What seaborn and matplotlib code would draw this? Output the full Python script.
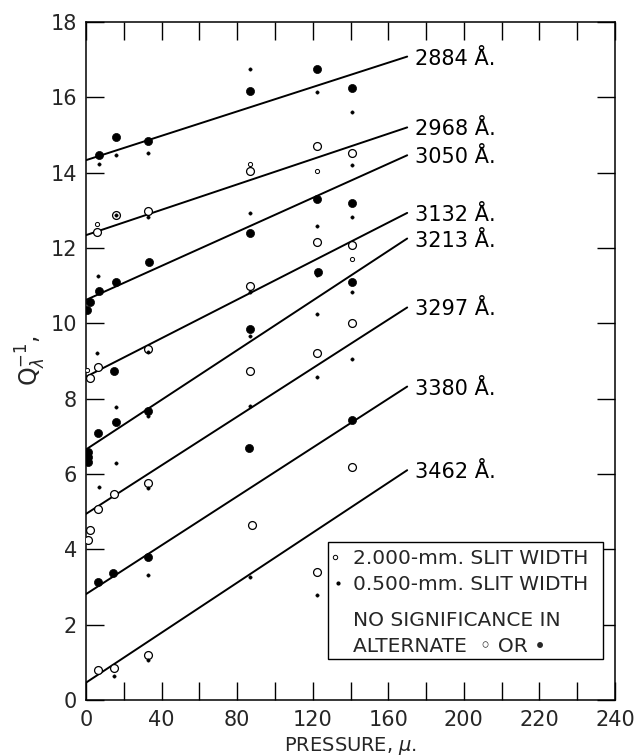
import numpy as np
import pandas as pd
import matplotlib
matplotlib.use("Agg")
import matplotlib.pyplot as plt
from matplotlib.patches import Rectangle
import seaborn as sns

# ---------------- data ----------------
wavelengths = ["2884", "2968", "3050", "3132", "3213", "3297", "3380", "3462"]

# fitted lines: Q at pressure 0 and at pressure 170
line_p_start = 0
line_p_end = 170
line_q_start = [14.33, 12.34, 10.62, 8.58, 6.65, 4.94, 2.81, 0.46]
line_q_end = [17.08, 15.20, 14.46, 12.93, 12.25, 10.42, 8.32, 6.10]

# 2.000-mm slit width (large markers)
wide_wavelength = (["2884"] * 6 + ["2968"] * 6 + ["3050"] * 8 + ["3132"] * 7 +
                   ["3213"] * 9 + ["3297"] * 8 + ["3380"] * 5 + ["3462"] * 6)
wide_pressure = [7, 16, 33, 87, 122, 141,
                 6, 16, 33, 87, 122, 141,
                 0.7, 2, 7, 16, 33.5, 87, 122, 141,
                 2, 6.5, 15, 33, 87, 122, 141,
                 1, 1, 1, 6.5, 15.7, 33, 87, 123, 141,
                 1.2, 2, 6.5, 15, 33, 87, 122, 141,
                 6.5, 14.5, 33, 86.5, 141,
                 6.5, 15, 33, 87.7, 122.5, 141]
wide_q = [14.47, 14.95, 14.85, 16.17, 16.75, 16.25,
          12.42, 12.87, 12.98, 14.03, 14.71, 14.51,
          10.35, 10.57, 10.87, 11.09, 11.62, 12.39, 13.30, 13.19,
          8.54, 8.83, 8.72, 9.32, 11.00, 12.17, 12.08,
          6.58, 6.45, 6.33, 7.08, 7.39, 7.68, 9.85, 11.35, 11.10,
          4.25, 4.51, 5.06, 5.47, 5.77, 8.72, 9.20, 10.02,
          3.14, 3.38, 3.80, 6.68, 7.43,
          0.80, 0.86, 1.19, 4.65, 3.39, 6.19]
wide_filled = ([True] * 6 + [False] * 6 + [True] * 8 +
               [False, False, True, False, False, False, False] +
               [True] * 9 + [False] * 8 + [True] * 5 + [False] * 6)

# 0.500-mm slit width (small markers)
narrow_wavelength = (["2884"] * 6 + ["2968"] * 6 + ["3050"] * 4 + ["3132"] * 5 +
                     ["3213"] * 7 + ["3297"] * 5 + ["3380"] * 1 + ["3462"] * 4)
narrow_pressure = [7, 16, 33, 87, 122, 141,
                   6, 16, 33, 87, 122, 141,
                   6.5, 87, 122, 141,
                   0.7, 5.6, 33, 87, 141,
                   15.7, 15.7, 33, 87, 122, 122, 141,
                   7, 33, 87, 122, 141,
                   33,
                   15, 33, 87, 122]
narrow_q = [14.23, 14.48, 14.53, 16.74, 16.13, 15.60,
            12.64, 12.87, 12.83, 14.22, 14.05, 14.19,
            11.26, 12.94, 12.57, 12.83,
            8.76, 9.20, 9.25, 10.84, 11.70,
            7.77, 6.28, 7.55, 9.67, 11.28, 10.24, 10.84,
            5.66, 5.63, 7.81, 8.58, 9.05,
            3.33,
            0.64, 1.06, 3.27, 2.80]
narrow_open = ([False] * 6 +
               [True, False, False, True, True, False] +
               [False] * 4 +
               [True, False, False, False, True] +
               [False] * 7 + [False] * 5 + [False] + [False] * 4)

x_major = [0, 40, 80, 120, 160, 200, 240, 280]
x_tick_labels = ["0", "40", "80", "120", "160", "200", "220", "240"]
y_major = [0, 2, 4, 6, 8, 10, 12, 14, 16, 18]

# ---------------- frames ----------------
line_df = pd.DataFrame({
    "wavelength": wavelengths * 2,
    "pressure": [line_p_start] * len(wavelengths) + [line_p_end] * len(wavelengths),
    "q": line_q_start + line_q_end,
})
wide_df = pd.DataFrame({"wavelength": wide_wavelength, "pressure": wide_pressure,
                        "q": wide_q, "filled": wide_filled})
narrow_df = pd.DataFrame({"wavelength": narrow_wavelength, "pressure": narrow_pressure,
                          "q": narrow_q, "open": narrow_open})

# ---------------- style ----------------
sns.set_theme(style="ticks")
plt.rcParams["font.family"] = ["DejaVu Sans"]
plt.rcParams["mathtext.fontset"] = "dejavusans"

fig = plt.figure(figsize=(6.37, 7.56), dpi=100)
ax = fig.add_axes([0.135, 0.0741, 0.8305, 0.8969])

sns.lineplot(data=line_df, x="pressure", y="q", units="wavelength", estimator=None,
             color="black", linewidth=1.4, sort=True, legend=False, ax=ax)

sns.scatterplot(data=wide_df[~wide_df["filled"]], x="pressure", y="q", ax=ax,
                s=32, facecolor="white", edgecolor="black", linewidth=0.9,
                legend=False, zorder=3)
sns.scatterplot(data=wide_df[wide_df["filled"]], x="pressure", y="q", ax=ax,
                s=34, color="black", edgecolor="black", linewidth=0.5,
                legend=False, zorder=4)
sns.scatterplot(data=narrow_df[narrow_df["open"]], x="pressure", y="q", ax=ax,
                s=9, facecolor="white", edgecolor="black", linewidth=0.7,
                legend=False, zorder=5)
sns.scatterplot(data=narrow_df[~narrow_df["open"]], x="pressure", y="q", ax=ax,
                s=6, color="black", edgecolor="black", linewidth=0.3,
                legend=False, zorder=5)

# wavelength labels at the line ends
for w, qe in zip(wavelengths, line_q_end):
    ax.text(line_p_end + 4, qe, f"{w} Å.", fontsize=15, va="center_baseline",
            ha="left", color="black")

ax.set_xlim(0, 280)
ax.set_ylim(0, 18)
ax.set_xticks(x_major)
ax.set_xticklabels(x_tick_labels)
ax.set_xticks(np.arange(0, 281, 20), minor=True)
ax.set_yticks(y_major)
ax.set_yticklabels([str(v) for v in y_major])
ax.tick_params(which="both", direction="in", length=13, width=1.0,
               top=True, right=True, color="black")
ax.tick_params(axis="y", labelsize=15, pad=6.5)
ax.tick_params(axis="x", labelsize=15, pad=7)
for sp in ax.spines.values():
    sp.set_linewidth(1.1)
    sp.set_color("black")

ax.set_xlabel(r"PRESSURE, $\mu$.", fontsize=14, labelpad=4)
ax.set_ylabel(r"$\mathrm{Q}^{-1}_{\lambda}$,", fontsize=17, labelpad=2)

# legend box
ax.add_patch(Rectangle((0.4575, 0.0605), 0.5195, 0.1725, transform=ax.transAxes,
                       facecolor="white", edgecolor="black", linewidth=1.0, zorder=6))
ax.scatter([0.4707], [0.2109], s=10, facecolor="white", edgecolor="black",
           linewidth=0.7, transform=ax.transAxes, zorder=7)
ax.scatter([0.4764], [0.1726], s=4, color="black", transform=ax.transAxes, zorder=7)
legend_lines = ["2.000-mm. SLIT WIDTH", "0.500-mm. SLIT WIDTH",
                "NO SIGNIFICANCE IN", "ALTERNATE  ◦ OR •"]
legend_y = [0.2109, 0.1726, 0.1209, 0.0811]
for t, yy in zip(legend_lines, legend_y):
    ax.text(0.5047, yy, t, transform=ax.transAxes, fontsize=14.5,
            va="center_baseline", ha="left", zorder=7)

fig.savefig("out.png", dpi=100)
